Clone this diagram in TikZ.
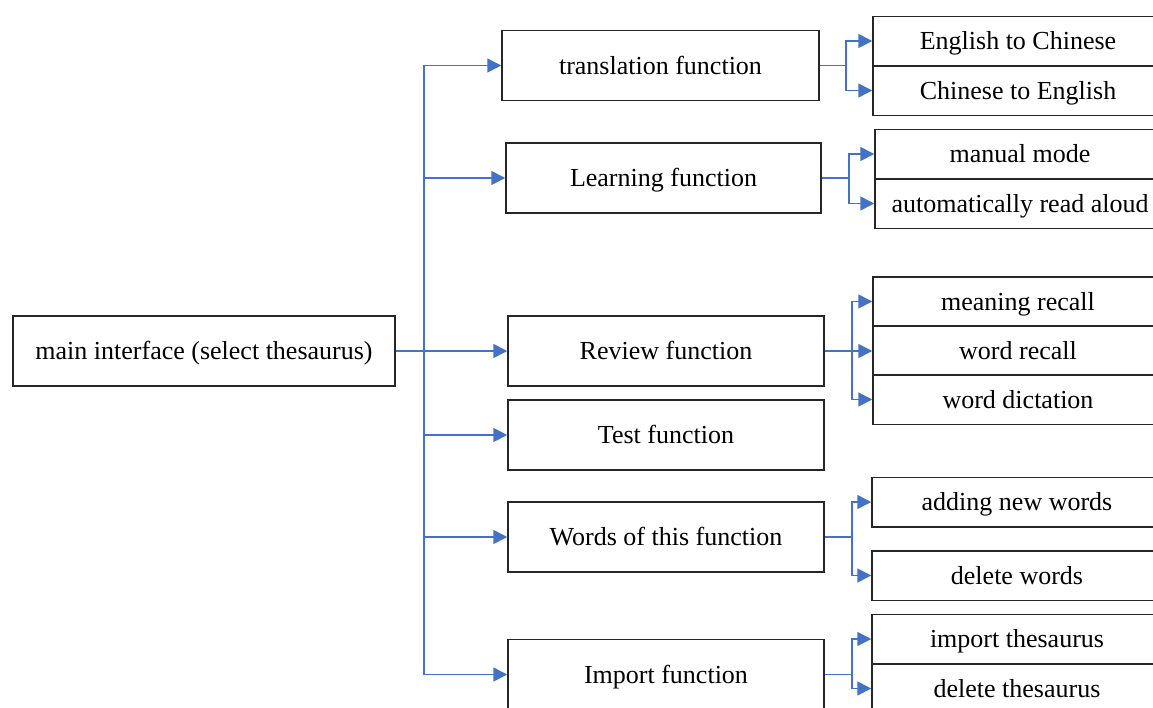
\documentclass[tikz,border=0pt]{standalone}
\usepackage{fontspec}
\setmainfont{Liberation Serif}
\usetikzlibrary{arrows.meta}
\definecolor{linkblue}{HTML}{4472C4}
\tikzset{
  box/.style={draw=black!85, line width=1.5pt, rectangle, inner sep=0pt, text height=22pt, text depth=5pt, font=\fontsize{26}{30}\selectfont},
  mainbox/.style={box, minimum height=70pt},
  subbox/.style={box, minimum width=290pt, minimum height=49.5pt},
  link/.style={draw=linkblue, line width=1.6pt},
  arr/.style={link, -{Triangle[length=14pt,width=14pt]}},
}
\begin{document}
\begin{tikzpicture}[x=1pt,y=-1pt]
\useasboundingbox (0,0) rectangle (1153,707);
\clip (0,0) rectangle (1153,707);
\fill[white] (0,0) rectangle (1153,707);
% main boxes
\node[mainbox, minimum width=382pt] (main) at (204,351) {main interface (select thesaurus)};
\node[mainbox, minimum width=317pt] (trans) at (660.5,65.5) {translation function};
\node[mainbox, minimum width=315pt] (learn) at (663.5,178) {Learning function};
\node[mainbox, minimum width=316pt] (review) at (666,351) {Review function};
\node[mainbox, minimum width=316pt] (test) at (666,435) {Test function};
\node[mainbox, minimum width=316pt] (words) at (666,537) {Words of this function};
\node[mainbox, minimum width=316pt] (import) at (666,674.5) {Import function};
% sub boxes
\node[subbox] (ec) at (1018,41) {English to Chinese};
\node[subbox] (ce) at (1018,90.5) {Chinese to English};
\node[subbox] (mm) at (1020,154) {manual mode};
\node[subbox] (ar) at (1020,203.5) {automatically read aloud};
\node[subbox] (mr) at (1018,301.5) {meaning recall};
\node[subbox] (wr) at (1018,350.5) {word recall};
\node[subbox] (wd) at (1018,399.5) {word dictation};
\node[subbox] (an) at (1017,502) {adding new words};
\node[subbox] (dw) at (1017,575.5) {delete words};
\node[subbox] (it) at (1017,639) {import thesaurus};
\node[subbox] (dt) at (1017,688.5) {delete thesaurus};
% trunk from main
\draw[arr] (main.east) -- ++(28,0) |- (trans.west);
\draw[arr] (main.east) -- ++(28,0) |- (learn.west);
\draw[arr] (main.east) -- (review.west);
\draw[arr] (main.east) -- ++(28,0) |- (test.west);
\draw[arr] (main.east) -- ++(28,0) |- (words.west);
\draw[arr] (main.east) -- ++(28,0) |- (import.west);
% branches
\draw[arr] (trans.east) -- ++(26,0) |- (ec.west);
\draw[arr] (trans.east) -- ++(26,0) |- (ce.west);
\draw[arr] (learn.east) -- ++(27,0) |- (mm.west);
\draw[arr] (learn.east) -- ++(27,0) |- (ar.west);
\draw[arr] (review.east) -- ++(27,0) |- (mr.west);
\draw[arr] (review.east) -- (review.east -| wr.west);
\draw[arr] (review.east) -- ++(27,0) |- (wd.west);
\draw[arr] (words.east) -- ++(27,0) |- (an.west);
\draw[arr] (words.east) -- ++(27,0) |- (dw.west);
\draw[arr] (import.east) -- ++(27,0) |- (it.west);
\draw[arr] (import.east) -- ++(27,0) |- (dt.west);
\end{tikzpicture}
\end{document}
